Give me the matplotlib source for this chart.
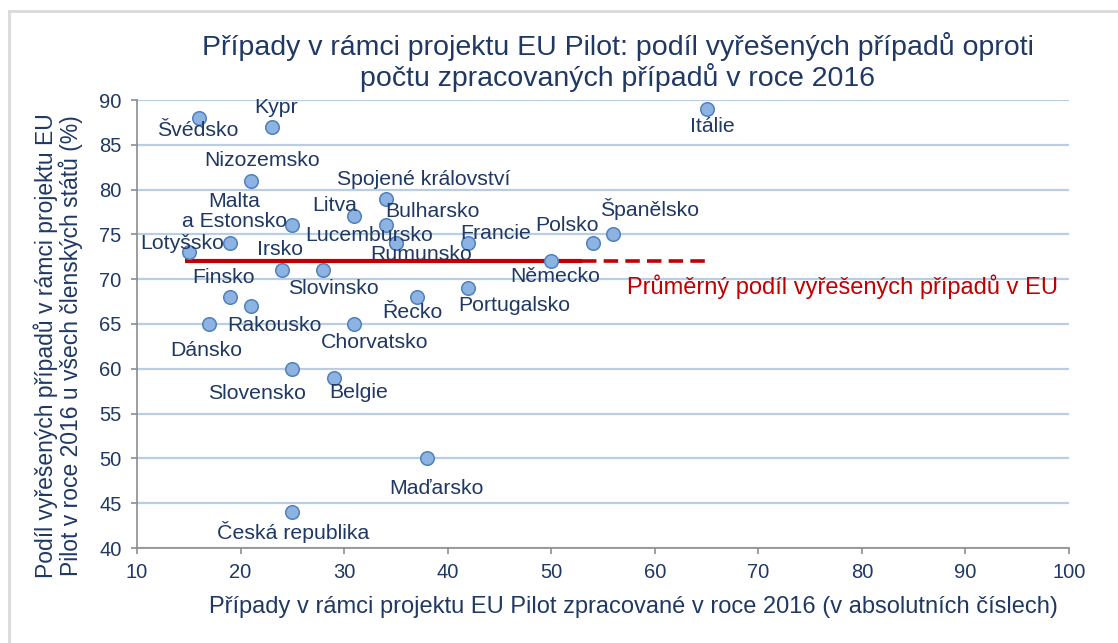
import matplotlib
matplotlib.use("Agg")
import matplotlib.pyplot as plt
from matplotlib.patches import Rectangle

plt.rcParams["font.family"] = ["Liberation Sans", "DejaVu Sans"]

# data
countries = [
    "Švédsko", "Kypr", "Nizozemsko", "Malta\na Estonsko", "Lotyšsko", "",
    "Irsko", "Slovinsko", "Finsko", "Rakousko", "Dánsko", "Chorvatsko",
    "Litva", "Spojené království", "Bulharsko", "Lucembursko", "Rumunsko",
    "Francie", "Řecko", "Portugalsko", "Německo", "Polsko", "Španělsko",
    "Itálie", "Slovensko", "Belgie", "Maďarsko", "Česká republika",
]
cases = [16, 23, 21, 25, 19, 15, 24, 28, 19, 21, 17, 31, 31, 34, 34, 35, 35,
         42, 37, 42, 50, 54, 56, 65, 25, 29, 38, 25]
resolved = [88, 87, 81, 76, 74, 73, 71, 71, 68, 67, 65, 65, 77, 79, 76, 74, 74,
            74, 68, 69, 72, 74, 75, 89, 60, 59, 50, 44]

eu_avg = 72
avg_x_solid = [14.6, 53]
avg_x_dash = [53, 65]

x_ticks = [10, 20, 30, 40, 50, 60, 70, 80, 90, 100]
y_ticks = [40, 45, 50, 55, 60, 65, 70, 75, 80, 85, 90]

# label offsets in pixels (dx, dy), same order as countries
label_offsets = [
    (-1, -13), (4, 19), (11, 20), (-58, 14), (-48, 0), (0, 0),
    (-2, 21), (10, -18), (-7, 20), (24, -19), (-3, -27), (20, -19),
    (-20, 11), (38, 19), (47, 14), (-27, 8), (25, -11),
    (27, 10), (-4, -15), (46, -17), (4, -15), (-26, 18), (36, 25),
    (6, -18), (-35, -25), (25, -15), (9, -30), (1, -20),
]

NAVY = "#1F3864"
RED = "#C00000"

W, H = 1118, 643
fig = plt.figure(figsize=(W / 100, H / 100), dpi=100)
ax = fig.add_axes([137 / W, 1 - 548 / H, (1069 - 137) / W, (548 - 100) / H])

ax.set_xlim(10, 100)
ax.set_ylim(40, 90)
ax.set_xticks(x_ticks)
ax.set_yticks(y_ticks)
ax.yaxis.grid(True, color="#B9CDE5", linewidth=1.6)
ax.set_axisbelow(True)
for side in ("top", "right"):
    ax.spines[side].set_visible(False)
for side in ("left", "bottom"):
    ax.spines[side].set_color("#8C8C8C")
    ax.spines[side].set_linewidth(1.2)
ax.tick_params(axis="both", colors="#8C8C8C", length=4, width=1.2,
               labelcolor=NAVY, labelsize=14.5, pad=7)

ax.plot(avg_x_solid, [eu_avg, eu_avg], color=RED, lw=3, solid_capstyle="butt", zorder=2)
ax.plot(avg_x_dash, [eu_avg, eu_avg], color=RED, lw=2.6, dashes=(4, 2), zorder=2)

ax.scatter(cases, resolved, s=95, facecolor="#8DB3E2", edgecolor="#4F81BD",
           linewidth=1.1, zorder=3)

for name, x, y, (dx, dy) in zip(countries, cases, resolved, label_offsets):
    if not name:
        continue
    ax.annotate(name, (x, y), xytext=(dx, dy), textcoords="offset pixels",
                ha="center", va="center", color=NAVY, fontsize=15.3,
                multialignment="center", linespacing=1.1, zorder=4)

fig.text(627 / W, 1 - 287 / H, "Průměrný podíl vyřešených případů v EU",
         color=RED, fontsize=17, ha="left", va="center")

fig.text(618 / W, 1 - 62 / H,
         "Případy v rámci projektu EU Pilot: podíl vyřešených případů oproti\n"
         "počtu zpracovaných případů v roce 2016",
         ha="center", va="center", color=NAVY, fontsize=20.5, linespacing=1.05)

fig.text(633 / W, 1 - 607 / H,
         "Případy v rámci projektu EU Pilot zpracované v roce 2016 (v absolutních číslech)",
         ha="center", va="center", color=NAVY, fontsize=17)

fig.text(58 / W, 1 - 346 / H,
         "Podíl vyřešených případů v rámci projektu EU\n"
         "Pilot v roce 2016 u všech členských států (%)",
         ha="center", va="center", rotation=90, color=NAVY, fontsize=16.5,
         linespacing=1.0)

fig.patches.append(Rectangle((9 / W, -0.05), 1.2, 1 - 11 / H + 0.05,
                             transform=fig.transFigure, fill=False,
                             edgecolor="#D9D9D9", linewidth=2))

fig.savefig("out.png", dpi=100)
